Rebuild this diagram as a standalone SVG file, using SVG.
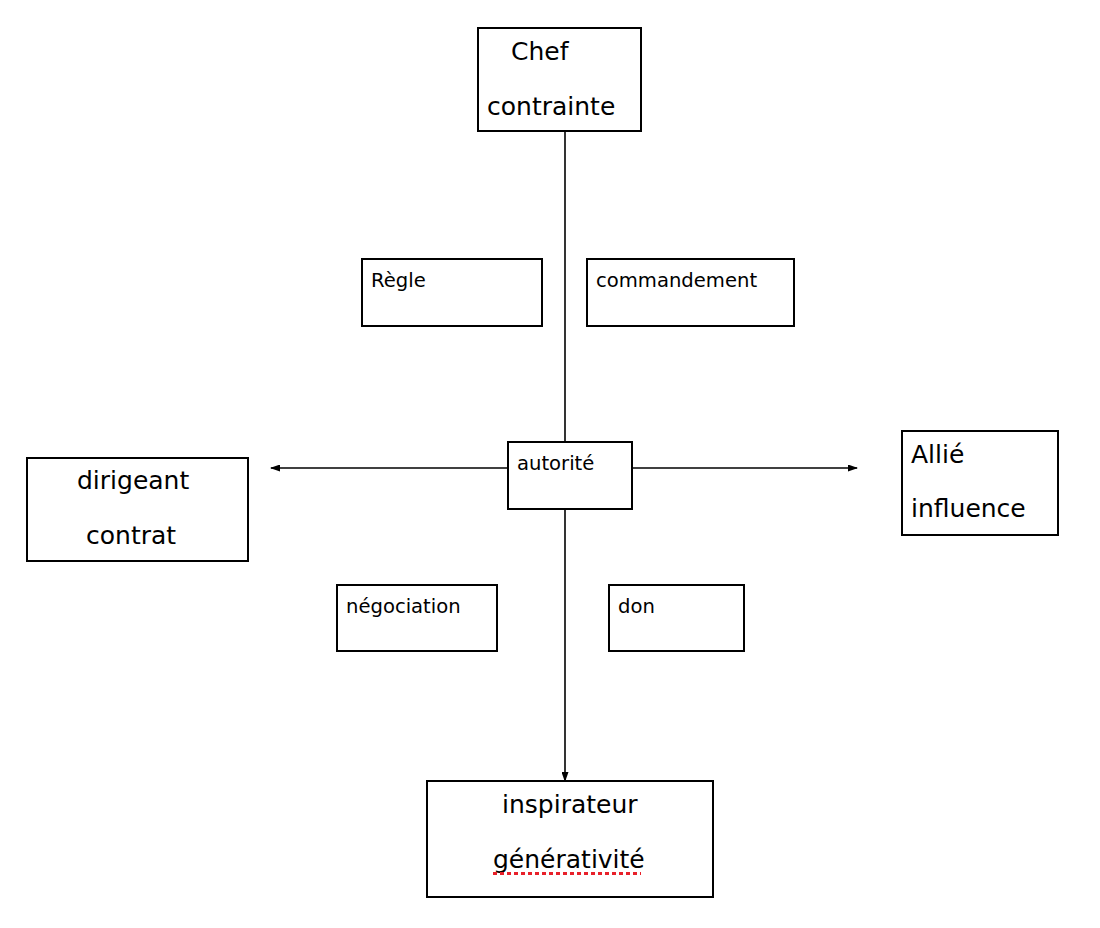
<svg xmlns="http://www.w3.org/2000/svg" width="1100" height="928" viewBox="0 0 1100 928">
<style>
.box{fill:#fff;stroke:#000;stroke-width:2}
.big{font-family:"DejaVu Sans","Noto Sans",sans-serif;font-size:25px;fill:#000}
.sm{font-family:"DejaVu Sans","Noto Sans",sans-serif;font-size:19.6px;fill:#000}
.ln{stroke:#000;stroke-width:1.6;fill:none}
</style>
<defs>
<marker id="ah" markerWidth="10" markerHeight="7" refX="9" refY="3.5" orient="auto" markerUnits="userSpaceOnUse">
<path d="M0,0 L10,3.5 L0,7 Z" fill="#000"/>
</marker>
</defs>
<rect width="1100" height="928" fill="#fff"/>
<g id="connectors">
<line class="ln" x1="565" y1="131" x2="565" y2="442"/>
<line class="ln" x1="565" y1="509" x2="565" y2="781" marker-end="url(#ah)"/>
<line class="ln" x1="508" y1="468" x2="271" y2="468" marker-end="url(#ah)"/>
<line class="ln" x1="632" y1="468" x2="857" y2="468" marker-end="url(#ah)"/>
</g>
<g id="chef">
<rect class="box" x="478" y="28" width="163" height="103"/>
<text class="big" x="511" y="60">Chef</text>
<text class="big" x="487" y="115">contrainte</text>
</g>
<g id="regle">
<rect class="box" x="362" y="259" width="180" height="67"/>
<text class="sm" x="371" y="287">Règle</text>
</g>
<g id="commandement">
<rect class="box" x="587" y="259" width="207" height="67"/>
<text class="sm" x="596" y="287">commandement</text>
</g>
<g id="dirigeant">
<rect class="box" x="27" y="458" width="221" height="103"/>
<text class="big" x="77" y="489">dirigeant</text>
<text class="big" x="86" y="544">contrat</text>
</g>
<g id="autorite">
<rect class="box" x="508" y="442" width="124" height="67"/>
<text class="sm" x="517" y="470">autorité</text>
</g>
<g id="allie">
<rect class="box" x="902" y="431" width="156" height="104"/>
<text class="big" x="911" y="463">Allié</text>
<text class="big" x="911" y="517">influence</text>
</g>
<g id="negociation">
<rect class="box" x="337" y="585" width="160" height="66"/>
<text class="sm" x="346" y="613">négociation</text>
</g>
<g id="don">
<rect class="box" x="609" y="585" width="135" height="66"/>
<text class="sm" x="618" y="613">don</text>
</g>
<g id="inspirateur">
<rect class="box" x="427" y="781" width="286" height="116"/>
<text class="big" x="502" y="813">inspirateur</text>
<text class="big" x="493" y="868">générativité</text>
<line x1="493" y1="873.5" x2="641" y2="873.5" stroke="#e8202a" stroke-width="3" stroke-dasharray="4,3"/>
</g>
</svg>
